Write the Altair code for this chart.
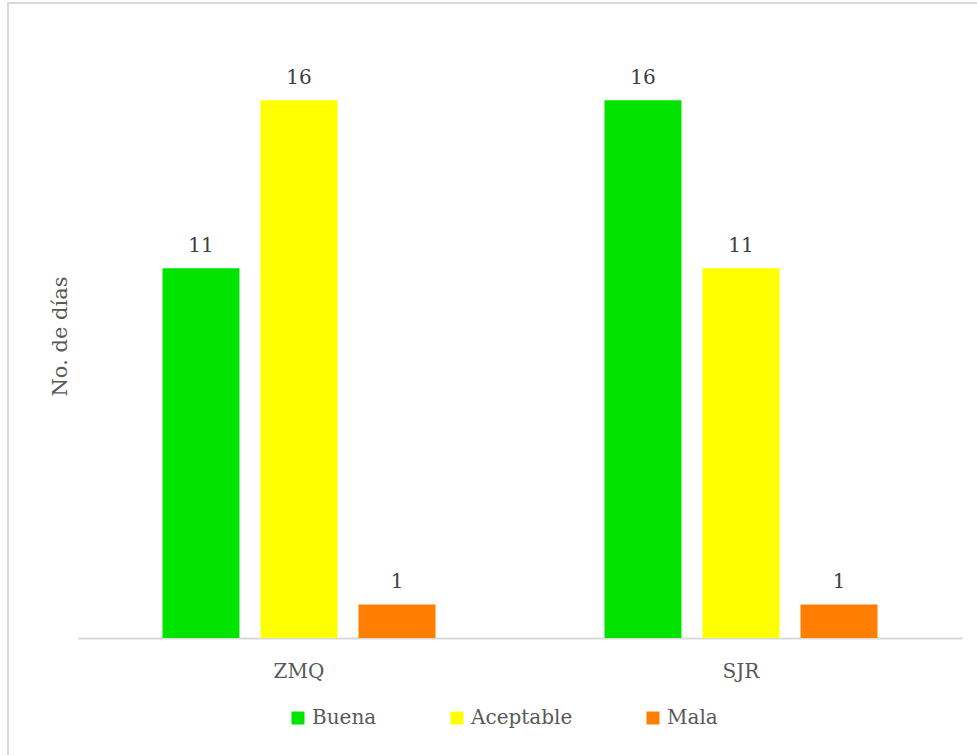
import altair as alt
import pandas as pd

# Días por categoría de calidad del aire en cada estación
estaciones = ["ZMQ", "ZMQ", "ZMQ", "SJR", "SJR", "SJR"]
categorias = ["Buena", "Aceptable", "Mala", "Buena", "Aceptable", "Mala"]
dias = [11, 16, 1, 16, 11, 1]

orden_estaciones = ["ZMQ", "SJR"]
orden_categorias = ["Buena", "Aceptable", "Mala"]
colores = ["#00e400", "#ffff00", "#ff7e00"]

df = pd.DataFrame({"Estación": estaciones, "Categoría": categorias, "Días": dias})

FONT = "DejaVu Serif"
GRIS = "#595959"

x_enc = alt.X(
    "Estación:N",
    sort=orden_estaciones,
    scale=alt.Scale(paddingInner=0, paddingOuter=0),
    axis=alt.Axis(
        title=None,
        labelAngle=0,
        ticks=False,
        tickSize=0,
        labelPadding=39,
        labelBaseline="alphabetic",
        labelFontSize=20,
        labelColor=GRIS,
        domainColor="#d9d9d9",
        domainWidth=2,
        grid=False,
    ),
)
xoff_enc = alt.XOffset(
    "Categoría:N",
    sort=orden_categorias,
    scale=alt.Scale(paddingInner=0.2143, paddingOuter=0.862),
)
y_enc = alt.Y(
    "Días:Q",
    scale=alt.Scale(domain=[0, 18], nice=False),
    axis=alt.Axis(
        title="No. de días",
        labels=False,
        ticks=False,
        domain=False,
        grid=False,
        titleFontSize=21,
        titleFontWeight="normal",
        titleColor=GRIS,
        titleAngle=270,
        titleBaseline="alphabetic",
        titleX=-12,
        titleY=303,
        titleAlign="center",
    ),
)

barras = alt.Chart(df).mark_bar(size=77).encode(
    x=x_enc,
    xOffset=xoff_enc,
    y=y_enc,
    color=alt.Color(
        "Categoría:N",
        sort=orden_categorias,
        scale=alt.Scale(domain=orden_categorias, range=colores),
        legend=alt.Legend(
            title=None,
            orient="none",
            direction="horizontal",
            legendX=210,
            legendY=675,
            symbolType="square",
            symbolSize=169,
            symbolStrokeWidth=0,
            labelFontSize=20,
            labelColor=GRIS,
            labelOffset=4,
            columnPadding=70,
            labelLimit=0,
        ),
    ),
)

etiquetas = alt.Chart(df).mark_text(
    dy=-16, baseline="alphabetic", fontSize=20, color="#404040"
).encode(
    x=alt.X("Estación:N", sort=orden_estaciones),
    xOffset=alt.XOffset("Categoría:N", sort=orden_categorias),
    y="Días:Q",
    text="Días:Q",
)

# Marco gris alrededor del gráfico
marco = alt.Chart(pd.DataFrame({"k": [0]})).mark_rect(
    filled=False, stroke="#d9d9d9", strokeWidth=2
).encode(
    x=alt.value(-70),
    x2=alt.value(920),
    y=alt.value(-30),
    y2=alt.value(740),
)

chart = (
    alt.layer(marco, barras, etiquetas)
    .properties(
        width=884,
        height=605,
        autosize=alt.AutoSizeParams(type="none"),
        padding={"left": 78, "top": 33, "right": 15, "bottom": 117},
    )
    .configure(font=FONT)
    .configure_view(stroke=None)
)

chart.save("out.html", embed_options={"renderer": "svg", "actions": False})
